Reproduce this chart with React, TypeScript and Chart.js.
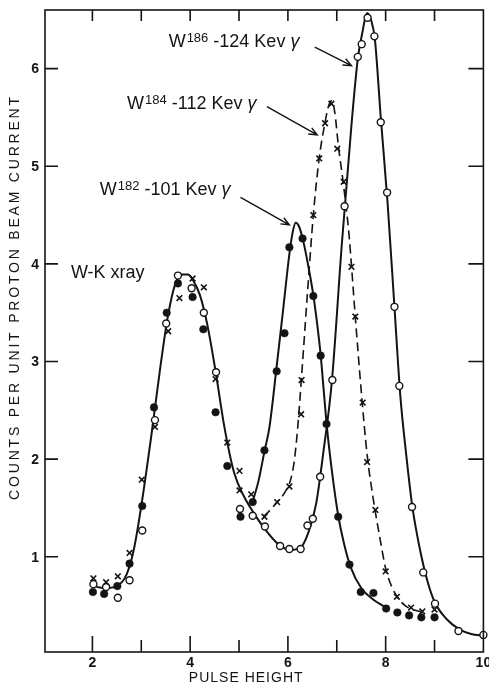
import React, { useEffect, useRef } from 'react';
import { Chart, registerables } from 'chart.js';

Chart.register(...registerables);

// ---- axis ticks / labels ----
const xTickValues = [2, 3, 4, 5, 6, 7, 8, 9];
const xLabelValues = [2, 4, 6, 8, 10];
const yTickValues = [1, 2, 3, 4, 5, 6];
const xTitle = 'PULSE HEIGHT';
const yTitle = 'COUNTS PER UNIT PROTON BEAM CURRENT';

// ---- measured points ----
// filled circles (W182)
const filledX = [2.01, 2.24, 2.51, 2.76, 3.02, 3.26, 3.52, 3.75, 4.05, 4.27, 4.52, 4.76, 5.03, 5.28, 5.52, 5.77, 5.93, 6.03, 6.30, 6.52, 6.67, 6.79, 7.03, 7.26, 7.49, 7.75, 8.01, 8.24, 8.48, 8.73, 9.00];
const filledY = [0.64, 0.62, 0.70, 0.93, 1.52, 2.53, 3.50, 3.80, 3.66, 3.33, 2.48, 1.93, 1.41, 1.56, 2.09, 2.90, 3.29, 4.17, 4.26, 3.67, 3.06, 2.36, 1.41, 0.92, 0.64, 0.63, 0.47, 0.43, 0.40, 0.38, 0.38];
// open circles (W186)
const openX = [2.02, 2.28, 2.52, 2.76, 3.02, 3.28, 3.51, 3.75, 4.03, 4.28, 4.53, 5.02, 5.28, 5.53, 5.84, 6.03, 6.26, 6.40, 6.51, 6.66, 6.91, 7.16, 7.43, 7.51, 7.63, 7.77, 7.90, 8.03, 8.18, 8.28, 8.54, 8.77, 9.01, 9.49, 10.0];
const openY = [0.72, 0.69, 0.58, 0.76, 1.27, 2.40, 3.39, 3.88, 3.75, 3.50, 2.89, 1.49, 1.42, 1.31, 1.11, 1.08, 1.08, 1.32, 1.39, 1.82, 2.81, 4.59, 6.12, 6.25, 6.52, 6.33, 5.45, 4.73, 3.56, 2.75, 1.51, 0.84, 0.52, 0.24, 0.20];
// crosses (W184)
const crossX = [2.02, 2.28, 2.52, 2.76, 3.01, 3.28, 3.55, 3.78, 4.05, 4.28, 4.52, 4.76, 5.01, 5.01, 5.25, 5.52, 5.78, 6.03, 6.27, 6.28, 6.52, 6.64, 6.76, 6.89, 7.01, 7.14, 7.30, 7.38, 7.53, 7.62, 7.79, 8.00, 8.23, 8.52, 8.75, 9.00];
const crossY = [0.78, 0.74, 0.80, 1.04, 1.79, 2.33, 3.31, 3.65, 3.85, 3.76, 2.82, 2.17, 1.88, 1.68, 1.64, 1.41, 1.56, 1.72, 2.46, 2.81, 4.50, 5.08, 5.44, 5.64, 5.18, 4.84, 3.97, 3.46, 2.58, 1.97, 1.48, 0.85, 0.59, 0.48, 0.44, 0.46];

// ---- hand-drawn curves ----
const curve186X = [2.0, 2.25, 2.5, 2.7, 2.85, 3.0, 3.2, 3.4, 3.55, 3.7, 3.85, 3.95, 4.05, 4.2, 4.35, 4.52, 4.7, 4.9, 5.1, 5.3, 5.55, 5.8, 6.05, 6.25, 6.42, 6.58, 6.72, 6.9, 7.1, 7.3, 7.43, 7.52, 7.62, 7.7, 7.78, 7.9, 8.04, 8.18, 8.3, 8.42, 8.55, 8.7, 8.85, 9.0, 9.25, 9.5, 9.75, 10.0];
const curve186Y = [0.70, 0.68, 0.70, 0.82, 1.08, 1.52, 2.22, 2.98, 3.48, 3.80, 3.89, 3.89, 3.84, 3.68, 3.38, 2.90, 2.33, 1.86, 1.62, 1.45, 1.27, 1.13, 1.07, 1.09, 1.25, 1.55, 2.05, 2.80, 4.18, 5.42, 6.10, 6.36, 6.57, 6.50, 6.30, 5.50, 4.62, 3.56, 2.65, 2.05, 1.50, 1.08, 0.76, 0.54, 0.36, 0.26, 0.21, 0.19];
const curve182X = [5.27, 5.4, 5.52, 5.62, 5.77, 5.9, 6.03, 6.1, 6.16, 6.23, 6.32, 6.42, 6.52, 6.6, 6.67, 6.73, 6.8, 6.9, 7.03, 7.15, 7.28, 7.5, 7.75, 8.05];
const curve182Y = [1.55, 1.78, 2.08, 2.32, 2.95, 3.52, 4.10, 4.33, 4.42, 4.38, 4.22, 3.97, 3.68, 3.38, 3.07, 2.72, 2.32, 1.88, 1.42, 1.13, 0.90, 0.68, 0.56, 0.47];
const curve184X = [5.5, 5.62, 5.78, 5.95, 6.05, 6.13, 6.2, 6.28, 6.4, 6.52, 6.64, 6.76, 6.84, 6.9, 6.96, 7.03, 7.14, 7.25, 7.38, 7.5, 7.62, 7.75, 7.88, 8.0, 8.12, 8.25, 8.4, 8.55, 8.7, 8.85];
const curve184Y = [1.41, 1.47, 1.56, 1.67, 1.78, 1.98, 2.32, 2.85, 3.70, 4.50, 5.08, 5.45, 5.63, 5.67, 5.55, 5.22, 4.80, 4.30, 3.45, 2.70, 2.05, 1.58, 1.20, 0.88, 0.70, 0.58, 0.50, 0.46, 0.44, 0.43];

// ---- annotations (data units) ----
const labelBase = ['W-K xray', 'W', 'W', 'W'];
const labelSup = ['', '182', '184', '186'];
const labelRest = ['', ' -101 Kev ', ' -112 Kev ', ' -124 Kev '];
const labelGreek = ['', 'γ', 'γ', 'γ'];
const labelX = [1.56, 2.15, 2.71, 3.56];
const labelY = [3.86, 4.71, 5.59, 6.22];
const arrowFromX = [NaN, 5.03, 5.57, 6.55];
const arrowFromY = [NaN, 4.68, 5.61, 6.22];
const arrowToX = [NaN, 6.03, 6.60, 7.30];
const arrowToY = [NaN, 4.40, 5.32, 6.03];

const FONT = '"Liberation Sans", Arial, sans-serif';
const INK = '#141414';

const pts = (xs: number[], ys: number[]) => xs.map((x, i) => ({ x, y: ys[i] }));

const framePlugin = {
  id: 'frame',
  afterDraw(chart: any) {
    const { ctx, chartArea: a } = chart;
    const x = chart.scales.x;
    const y = chart.scales.y;
    ctx.save();
    ctx.strokeStyle = INK;
    ctx.fillStyle = INK;
    ctx.lineWidth = 1.6;
    ctx.strokeRect(a.left, a.top, a.right - a.left, a.bottom - a.top);
    ctx.beginPath();
    for (const v of xTickValues) {
      const px = x.getPixelForValue(v);
      const major = xLabelValues.includes(v);
      ctx.moveTo(px, a.bottom);
      ctx.lineTo(px, a.bottom - (major ? 16 : 12));
      ctx.moveTo(px, a.top);
      ctx.lineTo(px, a.top + 11);
    }
    for (const v of yTickValues) {
      const py = y.getPixelForValue(v);
      ctx.moveTo(a.left, py);
      ctx.lineTo(a.left + 13, py);
      ctx.moveTo(a.right, py);
      ctx.lineTo(a.right - 15, py);
    }
    ctx.stroke();

    // tick labels
    ctx.font = `bold 14px ${FONT}`;
    ctx.textAlign = 'center';
    ctx.textBaseline = 'middle';
    for (const v of xLabelValues) ctx.fillText(String(v), x.getPixelForValue(v), a.bottom + 11);
    ctx.textAlign = 'right';
    for (const v of yTickValues) ctx.fillText(String(v), a.left - 6, y.getPixelForValue(v) + 1);

    // axis titles
    (ctx as any).letterSpacing = '1px';
    ctx.font = `14px ${FONT}`;
    ctx.textAlign = 'center';
    ctx.fillText(xTitle, (a.left + a.right) / 2 - 18, a.bottom + 26);
    ctx.save();
    ctx.translate(15, 297);
    ctx.rotate(-Math.PI / 2);
    (ctx as any).letterSpacing = '2.8px';
    ctx.fillText(yTitle, 0, 0);
    ctx.restore();
    (ctx as any).letterSpacing = '0px';

    // annotations
    ctx.textAlign = 'left';
    ctx.textBaseline = 'alphabetic';
    for (let i = 0; i < labelBase.length; i++) {
      let cx = x.getPixelForValue(labelX[i]);
      const cy = y.getPixelForValue(labelY[i]);
      ctx.font = `18px ${FONT}`;
      ctx.fillText(labelBase[i], cx, cy);
      cx += ctx.measureText(labelBase[i]).width;
      if (labelSup[i]) {
        ctx.font = `13px ${FONT}`;
        ctx.fillText(labelSup[i], cx + 1, cy - 5);
        cx += ctx.measureText(labelSup[i]).width + 1;
      }
      if (labelRest[i]) {
        ctx.font = `18px ${FONT}`;
        ctx.fillText(labelRest[i], cx, cy);
        cx += ctx.measureText(labelRest[i]).width;
      }
      if (labelGreek[i]) {
        ctx.font = `italic 18px ${FONT}`;
        ctx.fillText(labelGreek[i], cx, cy);
      }
      if (!isNaN(arrowFromX[i])) {
        const x1 = x.getPixelForValue(arrowFromX[i]);
        const y1 = y.getPixelForValue(arrowFromY[i]);
        const x2 = x.getPixelForValue(arrowToX[i]);
        const y2 = y.getPixelForValue(arrowToY[i]);
        const ang = Math.atan2(y2 - y1, x2 - x1);
        ctx.lineWidth = 1.4;
        ctx.beginPath();
        ctx.moveTo(x1, y1);
        ctx.lineTo(x2, y2);
        const h = 9;
        ctx.moveTo(x2 - h * Math.cos(ang - 0.4), y2 - h * Math.sin(ang - 0.4));
        ctx.lineTo(x2, y2);
        ctx.lineTo(x2 - h * Math.cos(ang + 0.4), y2 - h * Math.sin(ang + 0.4));
        ctx.stroke();
      }
    }
    ctx.restore();
  },
};

export default function App() {
  const ref = useRef<HTMLCanvasElement | null>(null);
  useEffect(() => {
    if (!ref.current) return;
    const curve = (xs: number[], ys: number[], dash: number[], order: number, w: number) => ({
      type: 'line' as const,
      data: pts(xs, ys),
      showLine: true,
      borderColor: INK,
      borderWidth: w,
      borderDash: dash,
      pointRadius: 0,
      cubicInterpolationMode: 'monotone' as const,
      fill: false,
      order,
      clip: false,
    });
    const chart = new Chart(ref.current, {
      type: 'scatter',
      data: {
        datasets: [
          {
            label: 'W184 crosses',
            data: pts(crossX, crossY),
            pointStyle: 'crossRot',
            pointRadius: 4,
            borderColor: INK,
            borderWidth: 1.6,
            order: 0,
            clip: false,
          },
          {
            label: 'W186 open',
            data: pts(openX, openY),
            pointStyle: 'circle',
            pointRadius: 3.5,
            backgroundColor: '#ffffff',
            borderColor: INK,
            borderWidth: 1.4,
            order: 1,
            clip: false,
          },
          {
            label: 'W182 filled',
            data: pts(filledX, filledY),
            pointStyle: 'circle',
            pointRadius: 3.8,
            backgroundColor: INK,
            borderColor: INK,
            borderWidth: 0.5,
            order: 2,
            clip: false,
          },
          curve(curve186X, curve186Y, [], 3, 2),
          curve(curve182X, curve182Y, [], 3, 2),
          curve(curve184X, curve184Y, [9, 5], 3, 1.6),
        ] as any,
      },
      options: {
        animation: false,
        responsive: false,
        devicePixelRatio: 1,
        events: [],
        layout: { padding: { top: 10, right: 1, left: 0, bottom: 0 } },
        plugins: { legend: { display: false }, tooltip: { enabled: false }, title: { display: false } },
        scales: {
          x: {
            type: 'linear',
            min: 1.03,
            max: 10,
            grid: { display: false, drawTicks: false },
            border: { display: false },
            ticks: { display: false },
            afterFit: (s: any) => { s.height = 34; },
          },
          y: {
            type: 'linear',
            min: 0.025,
            max: 6.6,
            grid: { display: false, drawTicks: false },
            border: { display: false },
            ticks: { display: false },
            afterFit: (s: any) => { s.width = 45; },
          },
        },
      },
      plugins: [framePlugin],
    });
    return () => chart.destroy();
  }, []);
  return (
    <div style={{ position: 'absolute', left: 0, top: 0, width: 489, height: 686, background: '#fff' }}>
      <canvas ref={ref} width={489} height={686} style={{ display: 'block' }} />
    </div>
  );
}
